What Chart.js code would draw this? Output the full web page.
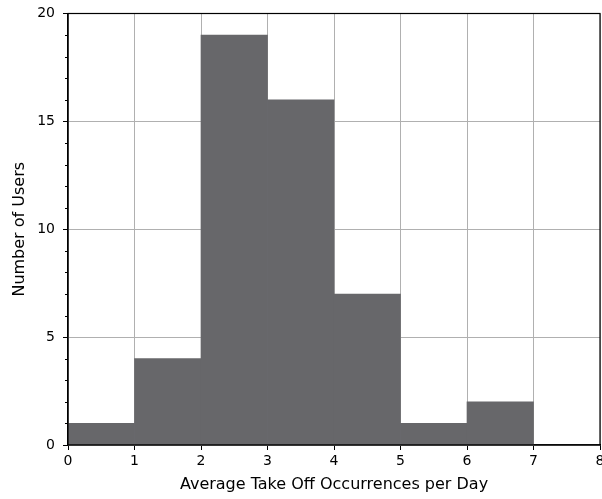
<!DOCTYPE html>
<html>
<head>
<meta charset="utf-8">
<script src="https://cdn.jsdelivr.net/npm/chart.js@4/dist/chart.umd.min.js"></script>
<style>
  html, body { margin: 0; padding: 0; background: #fff; }
  #wrap { width: 602px; height: 499px; }
</style>
</head>
<body>
<div id="wrap"><canvas id="histChart" width="602" height="499"></canvas></div>
<script>
// histogram bins (left edges) and counts
var binStarts = [0, 1, 2, 3, 4, 5, 6, 7];
var binWidth = 1;
var userCounts = [1, 4, 19, 16, 7, 1, 2, 0];
var xTicks = [0, 1, 2, 3, 4, 5, 6, 7, 8];
var yTicks = [0, 5, 10, 15, 20];

var points = binStarts.map(function (s, i) {
    return { x: s + binWidth / 2, y: userCounts[i] };
});

// top/right spines and minor ticks on y
var framePlugin = {
    id: "frame",
    afterDraw: function (chart) {
        var ctx = chart.ctx;
        var a = chart.chartArea;
        var y = chart.scales.y;
        ctx.save();
        ctx.strokeStyle = "#000";
        ctx.lineWidth = 1.2;
        ctx.strokeRect(a.left, a.top, a.right - a.left, a.bottom - a.top);
        ctx.lineWidth = 1;
        for (let v = y.min; v <= y.max; v++) {
            if (v % 5 === 0) continue;
            let py = Math.round(y.getPixelForValue(v)) + 0.5;
            ctx.beginPath();
            ctx.moveTo(a.left - 3, py);
            ctx.lineTo(a.left, py);
            ctx.stroke();
        }
        ctx.restore();
    }
};

var ctx = document.getElementById("histChart");
var histChart = new Chart(ctx, {
    type: "bar",
    data: {
        datasets: [
            {
                data: points,
                backgroundColor: "#67676a",
                borderWidth: 0,
                barPercentage: 1.0,
                categoryPercentage: 1.0
            }
        ]
    },
    options: {
        responsive: false,
        animation: false,
        events: [],
        layout: { padding: { left: 0, right: 2, top: 13.5, bottom: 0 } },
        plugins: { legend: { display: false }, tooltip: { enabled: false } },
        scales: {
            x: {
                type: "linear",
                offset: false,
                z: 1,
                min: 0,
                max: 8,
                afterBuildTicks: function (s) {
                    s.ticks = xTicks.map(function (v) { return { value: v }; });
                },
                ticks: {
                    color: "#000",
                    padding: 3,
                    font: { family: "DejaVu Sans", size: 14 }
                },
                grid: { offset: false, color: "#b0b0b0", lineWidth: 1, tickColor: "#000", tickLength: 5 },
                border: { color: "#000", width: 1.2 },
                title: {
                    display: true,
                    text: "Average Take Off Occurrences per Day",
                    color: "#000",
                    font: { family: "DejaVu Sans", size: 16 },
                    padding: { top: 0, bottom: 5 }
                },
                afterFit: function (s) {
                    s.height = 54;
                    s.paddingLeft = 0;
                    s.paddingRight = 0;
                }
            },
            y: {
                z: 1,
                min: 0,
                max: 20,
                afterBuildTicks: function (s) {
                    s.ticks = yTicks.map(function (v) { return { value: v }; });
                },
                ticks: {
                    color: "#000",
                    padding: 8,
                    font: { family: "DejaVu Sans", size: 14 }
                },
                grid: { color: "#b0b0b0", lineWidth: 1, tickColor: "#000", tickLength: 5 },
                border: { color: "#000", width: 1.2 },
                title: {
                    display: true,
                    text: "Number of Users",
                    color: "#000",
                    font: { family: "DejaVu Sans", size: 16 },
                    padding: { top: 10.5, bottom: 0 }
                },
                afterFit: function (s) {
                    s.width = 68;
                    s.paddingTop = 0;
                    s.paddingBottom = 0;
                }
            }
        }
    },
    plugins: [framePlugin]
});
</script>
</body>
</html>
